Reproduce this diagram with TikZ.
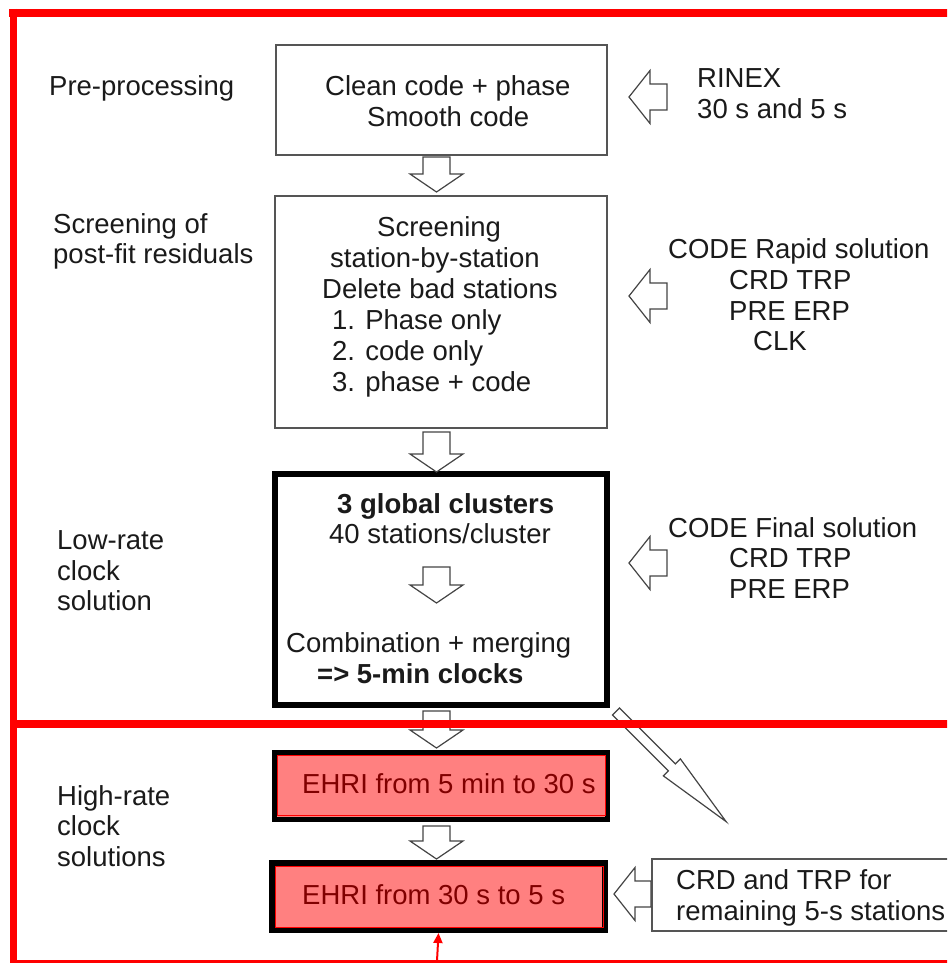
\documentclass[tikz,border=0pt]{standalone}
\usepackage{fontspec}
\setmainfont{Liberation Sans}
\usetikzlibrary{arrows.meta,calc}
\definecolor{ink}{HTML}{1A1A1A}
\definecolor{framered}{HTML}{FF0000}
\definecolor{ehrifill}{HTML}{FF8080}
\definecolor{ehritext}{HTML}{800000}
\definecolor{arrowgray}{HTML}{444444}
\definecolor{boxgray}{HTML}{555555}
\begin{document}
\begin{tikzpicture}[x=1pt,y=-1pt,
  every node/.style={font=\fontsize{27.5}{31}\selectfont, text=ink, inner sep=0pt},
  lbl/.style={anchor=base west},
  ehrilbl/.style={anchor=base west, text=ehritext},
  plainbox/.style={draw=boxgray, line width=1.3, rectangle},
  heavybox/.style={draw=black, line width=6, rectangle},
  ehribox/.style={draw=black, fill=ehrifill, rectangle},
  blockarrow/.style={draw=arrowgray, line width=1.2, fill=white, line join=miter},
  pics/downblock/.style={code={
    \draw[blockarrow] (-13.5,0) -- (13.5,0) -- (13.5,#1-18) -- (26.5,#1-18)
      -- (0,#1) -- (-26.5,#1-18) -- (-13.5,#1-18) -- cycle;}},
  pics/leftblock/.style={code={
    \draw[blockarrow] (0,0) -- (21,-26.5) -- (21,-13) -- (#1,-13)
      -- (#1,13) -- (21,13) -- (21,26.5) -- cycle;}}
]
\useasboundingbox (0,0) rectangle (947,963);
\clip (0,0) rectangle (947,963);

% ---- stage labels on the left
\node[lbl] (lab-pre) at (49,96) {Pre-processing};
\node[lbl] (lab-scr1) at (53,233) {Screening of};
\node[lbl] (lab-scr2) at (53,263) {post-fit residuals};
\node[lbl] (lab-low1) at (57,549) {Low-rate};
\node[lbl] (lab-low2) at (57,580) {clock};
\node[lbl] (lab-low3) at (57,610) {solution};
\node[lbl] (lab-high1) at (57,805) {High-rate};
\node[lbl] (lab-high2) at (57,835) {clock};
\node[lbl] (lab-high3) at (57,866) {solutions};

% ---- processing boxes
\node[plainbox, minimum width=331, minimum height=110] (pre) at (441.5,100) {};
\node[lbl] (pre-t1) at (325,96) {Clean code + phase};
\node[lbl] (pre-t2) at (367,127) {Smooth code};

\node[plainbox, minimum width=332, minimum height=232] (scr) at (441,312) {};
\node[lbl] (scr-t1) at (377,236) {Screening};
\node[lbl] (scr-t2) at (330,267) {station-by-station};
\node[lbl] (scr-t3) at (322,298) {Delete bad stations};
\node[lbl] (scr-t4) at (332,329) {1. Phase only};
\node[lbl] (scr-t5) at (332,360) {2. code only};
\node[lbl] (scr-t6) at (332,391) {3. phase + code};

\node[heavybox, minimum width=332, minimum height=231] (low) at (441,589.5) {};
\node[lbl, font=\fontsize{27.5}{31}\selectfont\bfseries] (low-t1) at (337,513) {3 global clusters};
\node[lbl] (low-t2) at (329,543) {40 stations/cluster};
\node[lbl] (low-t3) at (286,652) {Combination + merging};
\node[lbl, font=\fontsize{27.5}{31}\selectfont\bfseries] (low-t4) at (317,683) {=> 5-min clocks};

\node[ehribox, line width=5, minimum width=333, minimum height=67] (ehri1) at (441,786) {};
\draw[framered, line width=1] ($(ehri1.north west)+(5.5,5.5)$) rectangle ($(ehri1.south east)+(-4.5,-6.5)$);
\node[ehrilbl] (ehri1-t) at (302,793) {EHRI from 5 min to 30 s};

\node[ehribox, line width=6, minimum width=333, minimum height=67] (ehri2) at (438.5,896.5) {};
\draw[framered, line width=1] ($(ehri2.north west)+(6,6)$) rectangle ($(ehri2.south east)+(-5,-6)$);
\node[ehrilbl] (ehri2-t) at (302,904) {EHRI from 30 s to 5 s};

% ---- inputs on the right
\node[lbl] (in-rnx1) at (697,88) {RINEX};
\node[lbl] (in-rnx2) at (697,119) {30 s and 5 s};

\node[lbl] (in-rap1) at (668,258) {CODE Rapid solution};
\node[lbl] (in-rap2) at (729,289) {CRD TRP};
\node[lbl] (in-rap3) at (729,320) {PRE ERP};
\node[lbl] (in-rap4) at (753,350) {CLK};

\node[lbl] (in-fin1) at (668,537) {CODE Final solution};
\node[lbl] (in-fin2) at (729,567) {CRD TRP};
\node[lbl] (in-fin3) at (729,598) {PRE ERP};

\node[plainbox, minimum width=320, minimum height=72] (crd) at (812,895) {};
\node[lbl] (crd-t1) at (676,889) {CRD and TRP for};
\node[lbl] (crd-t2) at (676,920) {remaining 5-s stations};

% ---- hollow block arrows
\pic at (436.5,157) {downblock=35};
\pic at (436.5,432) {downblock=40};
\pic at (436.5,567) {downblock=36};
\pic at (436.5,711) {downblock=37};
\pic at (436.5,826) {downblock=33};

\pic at (629,97) {leftblock=38};
\pic at (629,296) {leftblock=38};
\pic at (629,563) {leftblock=38};
\pic at (614,894) {leftblock=37};

% long slanted arrow leaving the low-rate stage
\draw[blockarrow] (619.5,708) -- (675.4,763.9) -- (680.4,758.9) -- (726.1,821.6)
  -- (663.4,775.9) -- (668.4,770.9) -- (612.5,715) -- cycle;

% ---- red stage frame
\draw[framered, line width=8] (9,13) -- (960,13);
\draw[framered, line width=7] (13,9) -- (13,970);
\draw[framered, line width=8] (13,724) -- (960,724);
\draw[framered, line width=3] (13,961) -- (960,961);
\coordinate (redfoot) at (437,961);
\draw[framered, line width=2, -{Triangle[length=10,width=9]}] (redfoot) -- (ehri2.south);
\end{tikzpicture}
\end{document}
